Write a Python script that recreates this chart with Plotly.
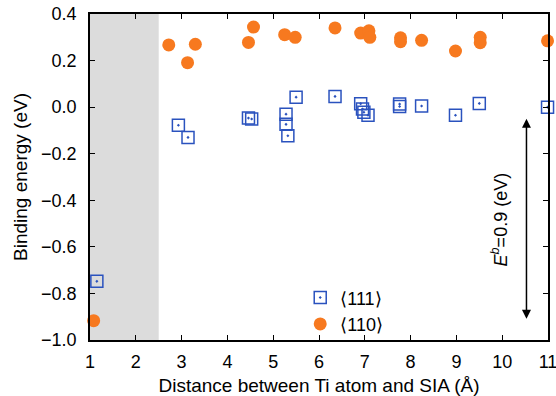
import plotly.graph_objects as go

# <110> dumbbell (orange filled circles)
x110 = [1.08, 2.72, 3.13, 3.30, 4.46, 4.57, 5.25, 5.48, 6.35, 6.91, 7.09, 7.11,
        7.78, 7.78, 8.24, 8.98, 9.52, 9.52, 10.99]
y110 = [-0.917, 0.267, 0.191, 0.270, 0.278, 0.344, 0.311, 0.300, 0.340, 0.318,
        0.328, 0.300, 0.298, 0.281, 0.287, 0.241, 0.300, 0.277, 0.285]

# <111> dumbbell (blue open squares)
x111 = [1.15, 2.93, 3.14, 4.46, 4.53, 5.28, 5.28, 5.32, 5.50, 6.35, 6.91, 6.95,
        6.98, 7.07, 7.76, 7.76, 8.24, 8.98, 9.50, 10.99]
y111 = [-0.748, -0.078, -0.130, -0.047, -0.051, -0.030, -0.074, -0.123, 0.043,
        0.046, 0.015, -0.008, -0.022, -0.035, 0.013, 0.003, 0.005, -0.035, 0.016, 0.000]

shade_range = [1.0, 2.5]
arrow_x = 10.53
arrow_y = [-0.05, -0.915]
arrow_label = "<i>E</i><sup><i>b</i></sup>=0.9 (eV)"

FONT = "Liberation Sans, Arial, sans-serif"
BLUE = "#2a52be"
ORANGE = "#f7791f"

fig = go.Figure()

fig.add_trace(go.Scatter(
    x=x111, y=y111, mode="markers", name="\u27e8111\u27e9",
    marker=dict(symbol="square-open-dot", size=12, color=BLUE,
                line=dict(width=1.5, color=BLUE)),
    cliponaxis=False,
))
fig.add_trace(go.Scatter(
    x=x110, y=y110, mode="markers", name="\u27e8110\u27e9",
    marker=dict(symbol="circle", size=13, color=ORANGE,
                line=dict(width=0)),
    cliponaxis=False,
))

fig.add_shape(type="rect", xref="x", yref="y",
              x0=shade_range[0], x1=shade_range[1], y0=-1.0, y1=0.4,
              fillcolor="#dcdcdc", line=dict(width=0), layer="below")

fig.add_annotation(x=arrow_x, y=arrow_y[0], ax=arrow_x, ay=arrow_y[1],
                   xref="x", yref="y", axref="x", ayref="y",
                   text="", showarrow=True, arrowhead=2, arrowside="end+start",
                   arrowsize=1.2, arrowwidth=1.5, arrowcolor="black")
fig.add_annotation(x=9.95, y=(arrow_y[0] + arrow_y[1]) / 2, xref="x", yref="y",
                   text=arrow_label, showarrow=False, textangle=-90,
                   font=dict(family=FONT, size=18, color="black"))

axis_common = dict(
    showline=True, linecolor="black", linewidth=1.5, mirror="ticks",
    ticks="inside", ticklen=5, tickwidth=1.2, tickcolor="black",
    showgrid=False, zeroline=False, automargin=False,
    ticklabeloverflow="allow",
    tickfont=dict(family=FONT, size=18, color="black"),
)

fig.update_xaxes(range=[1, 11], dtick=1, tick0=1, ticklabelstandoff=5,
                 title=dict(text="Distance between Ti atom and SIA (Å)",
                            font=dict(family=FONT, size=19, color="black"),
                            standoff=8),
                 **axis_common)
fig.update_yaxes(range=[-1.0, 0.4], dtick=0.2, tick0=-1.0, tickformat=".1f",
                 ticklabelstandoff=8,
                 title=dict(text="Binding energy (eV)",
                            font=dict(family=FONT, size=19, color="black"),
                            standoff=8),
                 **axis_common)

fig.update_layout(
    width=556, height=396,
    margin=dict(l=90, r=8, t=14, b=56),
    plot_bgcolor="white", paper_bgcolor="white",
    font=dict(family=FONT, size=18, color="black"),
    showlegend=True,
    legend=dict(x=0.459, y=0.186, xanchor="left", yanchor="top",
                bgcolor="rgba(0,0,0,0)", font=dict(family=FONT, size=18),
                tracegroupgap=0),
)

fig.write_html("out.html", post_script="document.body.style.margin='0';",
               config={"displayModeBar": False})
